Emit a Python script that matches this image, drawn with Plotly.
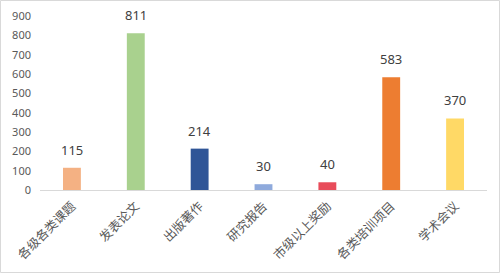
import plotly.graph_objects as go

categories = ["各级各类课题", "发表论文", "出版著作", "研究报告", "市级以上奖励", "各类培训项目", "学术会议"]
values = [115, 811, 214, 30, 40, 583, 370]
colors = ["#F4B183", "#A9D18E", "#2F5597", "#8FAADC", "#E84C5A", "#ED7D31", "#FFD966"]
y_ticks = [0, 100, 200, 300, 400, 500, 600, 700, 800, 900]

W, H = 500, 273
ml, mr, mt, mb = 40, 13, 16, 83
pw, ph = W - ml - mr, H - mt - mb

fig = go.Figure(go.Bar(
    x=categories, y=values,
    marker=dict(color=colors, line=dict(width=0)),
    width=0.28,
    cliponaxis=False,
))

for c, v in zip(categories, values):
    fig.add_annotation(
        x=c, y=v, text=str(v), showarrow=False,
        yanchor="bottom", yshift=7,
        font=dict(family="Noto Sans, Open Sans, sans-serif", size=13, color="#404040"),
    )

fig.update_layout(
    width=W, height=H,
    margin=dict(l=ml, r=mr, t=mt, b=mb, autoexpand=False),
    paper_bgcolor="white", plot_bgcolor="white",
    showlegend=False,
    xaxis=dict(
        tickangle=-45,
        tickfont=dict(family="Noto Sans CJK SC", size=12.5, color="#595959"),
        showline=True, linecolor="#D9D9D9", linewidth=1,
        showgrid=False, ticks="",
        ticklabelstandoff=3,
        automargin=False,
    ),
    yaxis=dict(
        range=[0, 900],
        tickvals=y_ticks,
        tickfont=dict(family="Noto Sans, Open Sans, sans-serif", size=11, color="#595959"),
        showgrid=False, zeroline=False, showline=False, ticks="",
        ticklabelstandoff=8,
        automargin=False,
    ),
    shapes=[dict(
        type="rect", xref="paper", yref="paper",
        x0=(0.5 - ml) / pw, x1=(W - 0.5 - ml) / pw,
        y0=-(mb - 0.5) / ph, y1=1 + (mt - 0.5) / ph,
        line=dict(color="#D9D9D9", width=1), fillcolor="rgba(0,0,0,0)",
        layer="below",
    )],
)

fig.write_html("out.html")
